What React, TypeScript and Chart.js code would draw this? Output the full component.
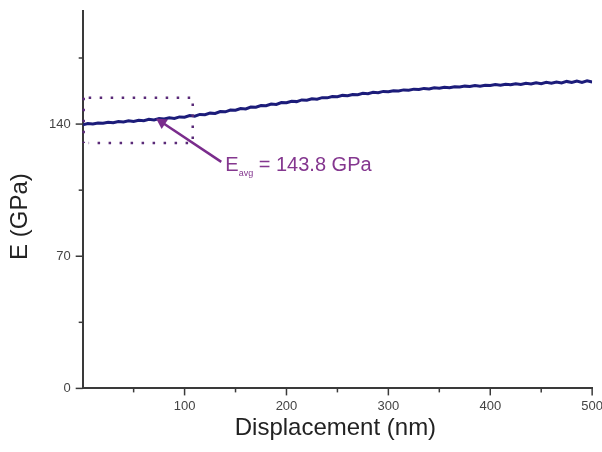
import React, { useEffect, useRef } from "react";
import { Chart, registerables } from "chart.js";

Chart.register(...registerables);

const DISPLACEMENT: number[] = [
  0, 5, 10, 15, 20, 25, 30, 35, 40, 45, 50, 55, 60, 65, 70, 75, 80, 85, 90, 95,
  100, 105, 110, 115, 120, 125, 130, 135, 140, 145, 150, 155, 160, 165, 170, 175, 180, 185, 190, 195,
  200, 205, 210, 215, 220, 225, 230, 235, 240, 245, 250, 255, 260, 265, 270, 275, 280, 285, 290, 295,
  300, 305, 310, 315, 320, 325, 330, 335, 340, 345, 350, 355, 360, 365, 370, 375, 380, 385, 390, 395,
  400, 405, 410, 415, 420, 425, 430, 435, 440, 445, 450, 455, 460, 465, 470, 475, 480, 485, 490, 495, 500,
];

const MODULUS: number[] = [
  139.6, 140.3, 140.1, 140.6, 140.4, 141.0, 140.7, 141.3, 141.1, 141.7, 141.4, 142.0, 141.8, 142.5, 142.2, 142.9, 142.7, 143.3, 143.0, 143.8,
  143.6, 144.5, 144.2, 145.1, 145.0, 145.8, 145.6, 146.6, 146.5, 147.4, 147.3, 148.2, 148.0, 149.0, 148.9, 149.8, 149.7, 150.6, 150.4, 151.4,
  151.3, 152.1, 151.9, 152.8, 152.6, 153.4, 153.2, 154.0, 153.9, 154.6, 154.5, 155.2, 155.0, 155.7, 155.6, 156.3, 156.1, 156.8, 156.6, 157.3,
  157.1, 157.7, 157.5, 158.1, 157.9, 158.5, 158.3, 158.9, 158.6, 159.2, 159.0, 159.5, 159.3, 159.8, 159.6, 160.1, 159.9, 160.4, 160.1, 160.6,
  160.4, 160.9, 160.6, 161.1, 160.8, 161.4, 161.0, 161.6, 161.2, 161.9, 161.4, 162.1, 161.6, 162.3, 161.8, 162.6, 162.0, 162.8, 162.1, 162.9, 162.3,
];

const X_MAJOR_TICKS: number[] = [100, 200, 300, 400, 500];
const X_MINOR_TICKS: number[] = [50, 150, 250, 350, 450];
const Y_MAJOR_TICKS: number[] = [0, 70, 140];
const Y_MINOR_TICKS: number[] = [35, 105, 175];

const X_TITLE = "Displacement (nm)";
const Y_TITLE = "E (GPa)";

// Averaging window box: [xStart, xEnd], [yLow, yHigh]
const BOX_X: number[] = [0, 108];
const BOX_Y: number[] = [130, 154];
// Arrow: tail (x, y) -> tip (x, y)
const ARROW_TAIL: number[] = [136, 120];
const ARROW_TIP: number[] = [72, 143];
const LABEL_POS: number[] = [140, 119];
const LABEL_MAIN = "E";
const LABEL_SUB = "avg";
const LABEL_REST = " = 143.8 GPa";

const FONT = "'Liberation Sans', Arial, sans-serif";
const AXIS_COLOR = "#3a3a3a";
const PURPLE = "#7a2c8c";

const decorPlugin = {
  id: "decor",
  afterDraw(chart: any) {
    const ctx = chart.ctx;
    const xs = chart.scales.x;
    const ys = chart.scales.y;
    const area = chart.chartArea;
    ctx.save();
    // ticks
    ctx.strokeStyle = AXIS_COLOR;
    ctx.lineWidth = 1.5;
    X_MAJOR_TICKS.forEach((v) => {
      const px = xs.getPixelForValue(v);
      ctx.beginPath();
      ctx.moveTo(px, area.bottom);
      ctx.lineTo(px, area.bottom + 7);
      ctx.stroke();
    });
    X_MINOR_TICKS.forEach((v) => {
      const px = xs.getPixelForValue(v);
      ctx.beginPath();
      ctx.moveTo(px, area.bottom);
      ctx.lineTo(px, area.bottom + 4);
      ctx.stroke();
    });
    Y_MAJOR_TICKS.forEach((v) => {
      const py = ys.getPixelForValue(v);
      ctx.beginPath();
      ctx.moveTo(area.left, py);
      ctx.lineTo(area.left - 7, py);
      ctx.stroke();
    });
    Y_MINOR_TICKS.forEach((v) => {
      const py = ys.getPixelForValue(v);
      ctx.beginPath();
      ctx.moveTo(area.left, py);
      ctx.lineTo(area.left - 4, py);
      ctx.stroke();
    });

    // axis titles
    ctx.fillStyle = "#222";
    ctx.font = "24px " + FONT;
    ctx.textAlign = "center";
    ctx.textBaseline = "middle";
    ctx.fillText(X_TITLE, (area.left + area.right) / 2 - 2, area.bottom + 40);
    ctx.save();
    ctx.translate(20, (area.top + area.bottom) / 2 + 17);
    ctx.rotate(-Math.PI / 2);
    ctx.fillText(Y_TITLE, 0, 0);
    ctx.restore();

    // dotted box
    const bx0 = xs.getPixelForValue(BOX_X[0]);
    const bx1 = xs.getPixelForValue(BOX_X[1]);
    const by0 = ys.getPixelForValue(BOX_Y[0]);
    const by1 = ys.getPixelForValue(BOX_Y[1]);
    ctx.strokeStyle = "#5a2a78";
    ctx.lineWidth = 2.5;
    ctx.setLineDash([2.5, 8.5]);
    ctx.beginPath();
    ctx.moveTo(bx0 + 6, by1);
    ctx.lineTo(bx1, by1);
    ctx.lineTo(bx1, by0);
    ctx.lineTo(bx0 + 6, by0);
    ctx.stroke();
    ctx.beginPath();
    ctx.moveTo(bx0 + 1, by1);
    ctx.lineTo(bx0 + 1, by0);
    ctx.stroke();
    ctx.setLineDash([]);

    // arrow
    const tx = xs.getPixelForValue(ARROW_TAIL[0]);
    const ty = ys.getPixelForValue(ARROW_TAIL[1]);
    const hx = xs.getPixelForValue(ARROW_TIP[0]);
    const hy = ys.getPixelForValue(ARROW_TIP[1]);
    const ang = Math.atan2(hy - ty, hx - tx);
    ctx.strokeStyle = PURPLE;
    ctx.fillStyle = PURPLE;
    ctx.lineWidth = 2.5;
    ctx.beginPath();
    ctx.moveTo(tx, ty);
    ctx.lineTo(hx - Math.cos(ang) * 6, hy - Math.sin(ang) * 6);
    ctx.stroke();
    const len = 12;
    const wid = 0.5;
    ctx.beginPath();
    ctx.moveTo(hx, hy);
    ctx.lineTo(hx - len * Math.cos(ang - wid), hy - len * Math.sin(ang - wid));
    ctx.lineTo(hx - len * Math.cos(ang + wid), hy - len * Math.sin(ang + wid));
    ctx.closePath();
    ctx.fill();

    // label
    const lx = xs.getPixelForValue(LABEL_POS[0]);
    const ly = ys.getPixelForValue(LABEL_POS[1]);
    ctx.fillStyle = "#84378f";
    ctx.textBaseline = "alphabetic";
    ctx.textAlign = "left";
    ctx.font = "20px " + FONT;
    ctx.fillText(LABEL_MAIN, lx, ly + 7);
    let cx = lx + ctx.measureText(LABEL_MAIN).width;
    ctx.font = "9px " + FONT;
    ctx.fillText(LABEL_SUB, cx, ly + 12);
    cx += ctx.measureText(LABEL_SUB).width;
    ctx.font = "20px " + FONT;
    ctx.fillText(LABEL_REST, cx, ly + 7);
    ctx.restore();
  },
};

export default function App() {
  const ref = useRef<HTMLCanvasElement | null>(null);
  useEffect(() => {
    if (!ref.current) return;
    const chart = new Chart(ref.current, {
      type: "line",
      data: {
        datasets: [
          {
            data: DISPLACEMENT.map((x, i) => ({ x, y: MODULUS[i] })),
            borderColor: "#1c1c7a",
            borderWidth: 3,
            pointRadius: 0,
            tension: 0,
            fill: false,
          },
        ],
      },
      options: {
        animation: false,
        responsive: true,
        maintainAspectRatio: false,
        layout: { padding: { left: 37, right: 0, top: 0, bottom: 28 } },
        plugins: { legend: { display: false }, tooltip: { enabled: false } },
        scales: {
          x: {
            type: "linear",
            min: 0,
            max: 500,
            afterBuildTicks: (s: any) => {
              s.ticks = X_MAJOR_TICKS.map((v) => ({ value: v }));
            },
            grid: { display: false, drawTicks: false },
            border: { display: true, color: AXIS_COLOR, width: 2 },
            ticks: {
              padding: 10,
              color: "#444",
              font: { family: FONT, size: 13 },
              maxRotation: 0,
              autoSkip: false,
            },
          },
          y: {
            type: "linear",
            min: 0,
            max: 200,
            afterBuildTicks: (s: any) => {
              s.ticks = Y_MAJOR_TICKS.map((v) => ({ value: v }));
            },
            grid: { display: false, drawTicks: false },
            border: { display: true, color: AXIS_COLOR, width: 2 },
            ticks: {
              padding: 12,
              color: "#444",
              font: { family: FONT, size: 13 },
              autoSkip: false,
            },
          },
        },
      },
      plugins: [decorPlugin],
    });
    return () => chart.destroy();
  }, []);
  return (
    <div style={{ position: "fixed", left: 0, top: 0, width: 602, height: 452, overflow: "hidden", background: "#fff" }}>
      <div style={{ position: "absolute", left: 0, top: -9, width: 613, height: 461 }}>
        <canvas ref={ref} />
      </div>
    </div>
  );
}
